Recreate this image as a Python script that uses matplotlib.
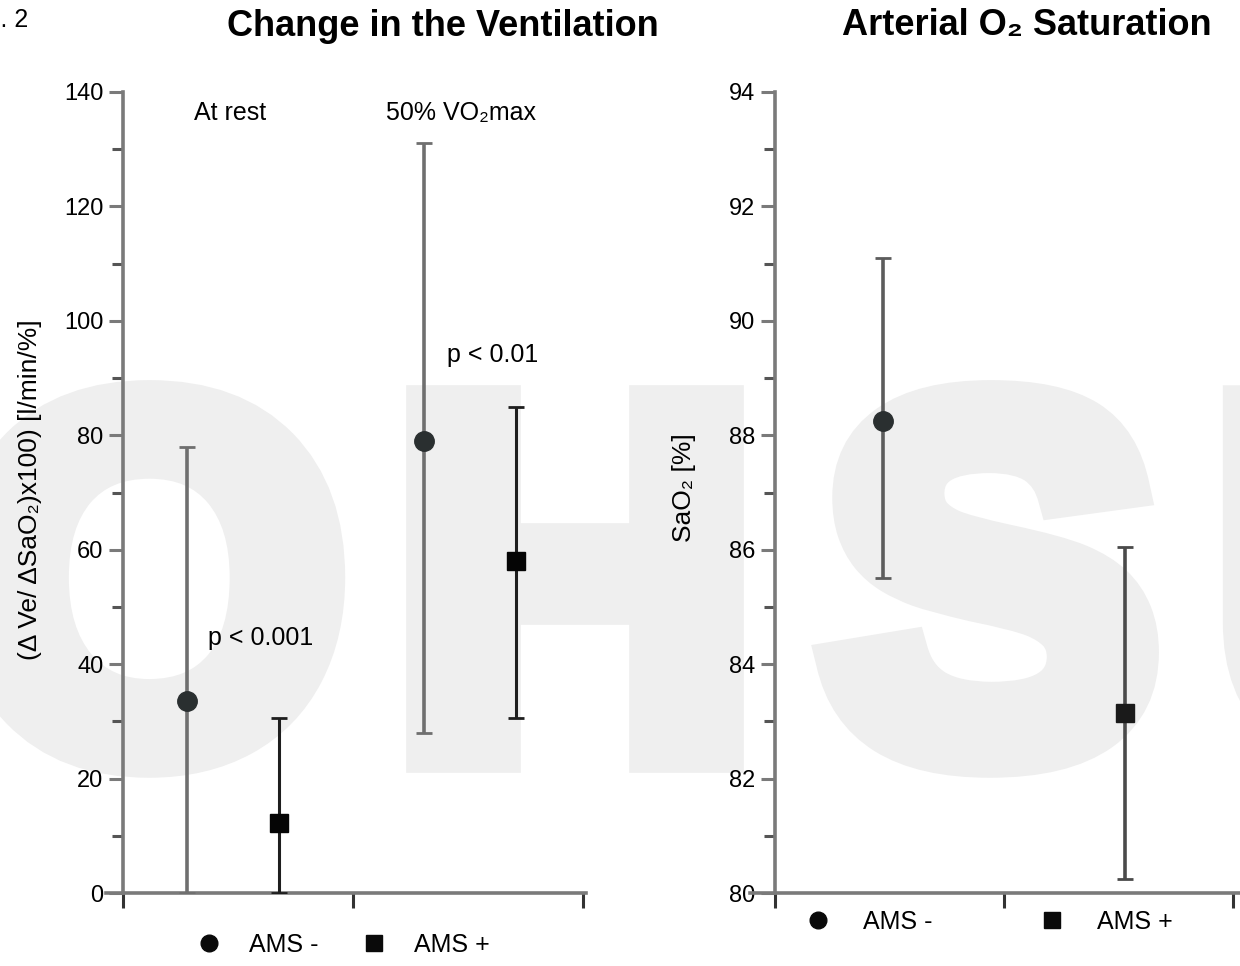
import numpy as np
import matplotlib.pyplot as plt
import matplotlib.patheffects as pe
from matplotlib.lines import Line2D

plt.rcParams['font.family'] = ['Liberation Sans', 'DejaVu Sans']

# left panel: change in ventilation (AMS- / AMS+, at rest and at 50% VO2max)
vent_x_minus = [0.28, 1.31]
vent_mean_minus = [33.5, 79]
vent_low_minus = [0, 28]
vent_high_minus = [78, 131]

vent_x_plus = [0.68, 1.71]
vent_mean_plus = [12.2, 58]
vent_low_plus = [0, 30.5]
vent_high_plus = [30.5, 85]

# right panel: arterial O2 saturation
sat_x = [0.47, 1.53]
sat_mean = [88.25, 83.15]
sat_low = [85.5, 80.25]
sat_high = [91.1, 86.05]

W, H = 1240, 966
fig = plt.figure(figsize=(W / 100, H / 100), dpi=100)

# watermark letters
wm_col = '#efefef'
for letter, cx in [('O', 150), ('H', 575), ('S', 990), ('U', 1395)]:
    fig.text(cx / W, 1 - 752 / H, letter, fontsize=362, weight='bold',
             color=wm_col, ha='center', va='baseline', zorder=-5,
             path_effects=[pe.withStroke(linewidth=30, foreground=wm_col,
                                         joinstyle='miter')])

spine_col = '#7a7a7a'


def style_axes(ax, x0):
    ax.set_facecolor('none')
    for s in ['top', 'right']:
        ax.spines[s].set_visible(False)
    ax.spines['left'].set_position(('data', x0))
    for s in ['left', 'bottom']:
        ax.spines[s].set_color(spine_col)
        ax.spines[s].set_linewidth(2.6)
    ax.tick_params(axis='y', which='major', direction='out', length=10,
                   width=2.2, color=spine_col, labelsize=17, pad=4)
    ax.tick_params(axis='y', which='minor', direction='out', length=8,
                   width=2.2, color='#555555')
    ax.tick_params(axis='x', direction='out', length=11, width=2.2,
                   color='#333333', labelbottom=False)
    ax.set_xticks([0, 1, 2])


# ---------------- left panel ----------------
ax1 = fig.add_axes([106 / W, 1 - 893 / H, (586 - 106) / W, (893 - 92) / H])
ax1.set_xlim(-0.074, 2.013)
ax1.set_ylim(0, 140)
style_axes(ax1, 0)
ax1.set_yticks(np.arange(0, 141, 20))
ax1.set_yticks(np.arange(10, 140, 20), minor=True)

vm = np.array(vent_mean_minus)
ax1.errorbar(vent_x_minus, vm,
             yerr=[vm - np.array(vent_low_minus), np.array(vent_high_minus) - vm],
             fmt='o', color='#2a2f30', ms=14, ecolor='#6f6f6f', elinewidth=2.6,
             capsize=6, capthick=2, zorder=3)
vp = np.array(vent_mean_plus)
ax1.errorbar(vent_x_plus, vp,
             yerr=[vp - np.array(vent_low_plus), np.array(vent_high_plus) - vp],
             fmt='s', color='#050505', ms=13, ecolor='#1e1e1e', elinewidth=2.2,
             capsize=6, capthick=2, zorder=3)

ax1.text(0.31, 136.3, 'At rest', fontsize=18, ha='left', va='center')
ax1.text(1.145, 136.3, '50% VO₂max', fontsize=18, ha='left', va='center')
ax1.text(1.41, 94, 'p < 0.01', fontsize=18, ha='left', va='center')
ax1.text(0.37, 44.6, 'p < 0.001', fontsize=18, ha='left', va='center')

fig.text(30 / W, 1 - 490 / H, '(Δ Ve/ ΔSaO₂)x100) [l/min/%]', rotation=90,
         fontsize=19, ha='center', va='center')
fig.text(443 / W, 1 - 26 / H, 'Change in the Ventilation', fontsize=26,
         weight='bold', ha='center', va='center')

h_minus = Line2D([], [], marker='o', ls='none', color='#0a0a0a', ms=12)
h_plus = Line2D([], [], marker='s', ls='none', color='#0a0a0a', ms=12)
ax1.legend([h_minus, h_plus], ['AMS -', 'AMS +'], ncol=2, frameon=False,
           loc='center', bbox_to_anchor=(342 / W, 1 - 945 / H),
           bbox_transform=fig.transFigure, fontsize=18, handletextpad=1.0,
           columnspacing=1.6, handlelength=1.2)

# ---------------- right panel ----------------
ax2 = fig.add_axes([750 / W, 1 - 893 / H, (1240 - 750) / W, (893 - 92) / H])
ax2.set_xlim(-0.109, 2.03)
ax2.set_ylim(80, 94)
style_axes(ax2, 0)
ax2.set_yticks(np.arange(80, 95, 2))
ax2.set_yticks(np.arange(81, 94, 2), minor=True)

sm = np.array(sat_mean)
sat_err = [sm - np.array(sat_low), np.array(sat_high) - sm]
ax2.errorbar(sat_x[:1], sm[:1], yerr=[sat_err[0][:1], sat_err[1][:1]],
             fmt='o', color='#2a2f30', ms=14, ecolor='#5c5c5c', elinewidth=2.6,
             capsize=6, capthick=2, zorder=3)
ax2.errorbar(sat_x[1:], sm[1:], yerr=[sat_err[0][1:], sat_err[1][1:]],
             fmt='s', color='#1a1a1a', ms=13, ecolor='#4a4a4a', elinewidth=2.6,
             capsize=6, capthick=2, zorder=3)

fig.text(684 / W, 1 - 488 / H, 'SaO₂ [%]', rotation=90, fontsize=19,
         ha='center', va='center')
fig.text(1027 / W, 1 - 26 / H, 'Arterial O₂ Saturation', fontsize=26,
         weight='bold', ha='center', va='center')

ax2.legend([h_minus, h_plus], ['AMS -', 'AMS +'], ncol=2, frameon=False,
           loc='center', bbox_to_anchor=(988 / W, 1 - 922 / H),
           bbox_transform=fig.transFigure, fontsize=18, handletextpad=1.2,
           columnspacing=4.2, handlelength=1.2)

fig.text(28 / W, 1 - 20 / H, 'Fig. 2', fontsize=18, ha='right', va='center')

fig.savefig('out.png', dpi=100)
